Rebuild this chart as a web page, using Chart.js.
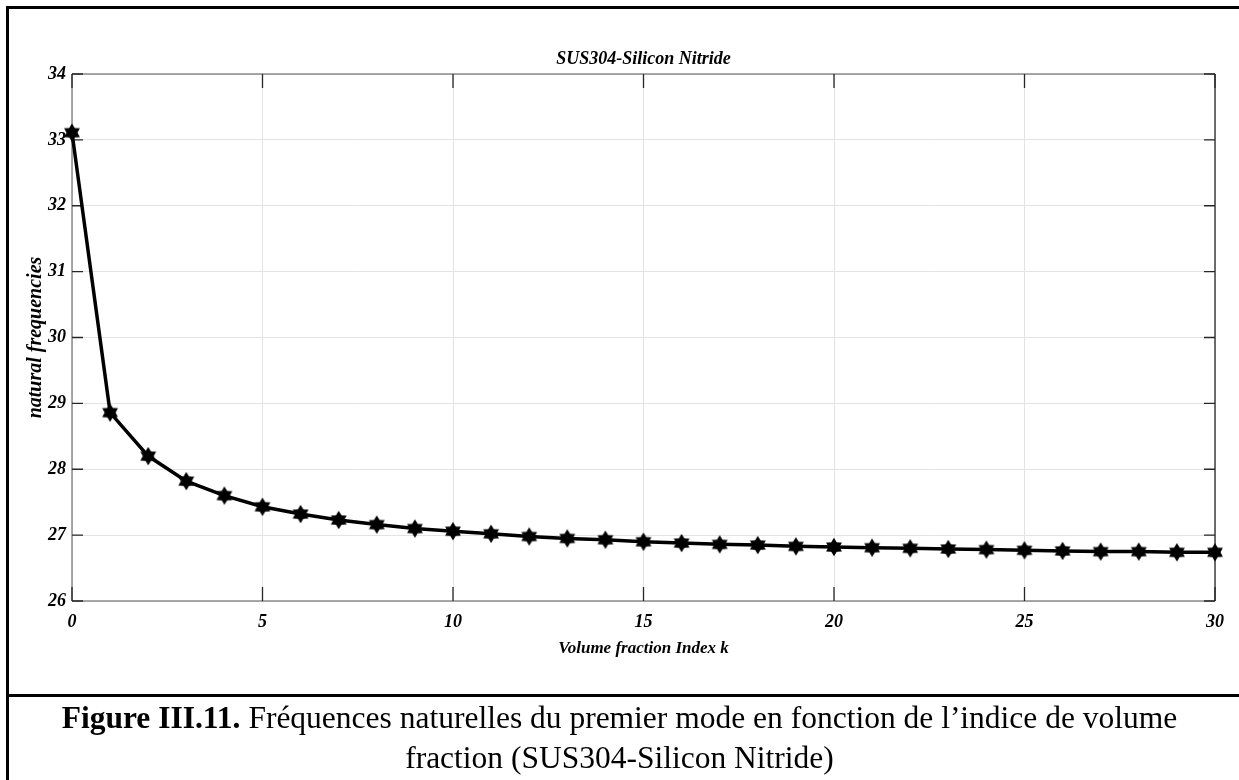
<!DOCTYPE html>
<html>
<head>
<meta charset="utf-8">
<script src="https://cdn.jsdelivr.net/npm/chart.js@4.4.1/dist/chart.umd.min.js"></script>
<style>
  html, body { margin: 0; padding: 0; background: #fff; }
  body { width: 1239px; height: 780px; position: relative; overflow: hidden; }
  #wrap { position: absolute; left: 0; top: 0; width: 1239px; height: 695px; }
  #frame { position: absolute; left: 6px; top: 6px; width: 1250px; height: 800px;
           border-left: 3px solid #000; border-top: 3px solid #000; pointer-events: none; }
  #sep { position: absolute; left: 6px; top: 694px; width: 1250px; height: 3px; background: #000; }
  #caption { position: absolute; left: 0px; top: 698px; width: 1239px; text-align: center;
             font-family: "Liberation Serif", "Times New Roman", serif; font-size: 31.5px;
             line-height: 40px; color: #000; white-space: nowrap; }
  #caption b { font-weight: bold; }
</style>
</head>
<body>
<div id="wrap"><canvas id="c" width="1239" height="695"></canvas></div>
<div id="frame"></div>
<div id="sep"></div>
<div id="caption"><b>Figure III.11.</b> Fréquences naturelles du premier mode en fonction de l’indice de volume<br>fraction (SUS304-Silicon Nitride)</div>
<script>
// ---- data ----
const kValues = [0,1,2,3,4,5,6,7,8,9,10,11,12,13,14,15,16,17,18,19,20,21,22,23,24,25,26,27,28,29,30];
const frequencies = [33.11,28.86,28.20,27.82,27.60,27.43,27.32,27.23,27.16,27.10,27.06,27.02,26.98,26.95,26.93,26.90,26.88,26.86,26.85,26.83,26.82,26.81,26.80,26.79,26.78,26.77,26.76,26.75,26.75,26.74,26.74];
const xTicks = [0,5,10,15,20,25,30];
const yTicks = [26,27,28,29,30,31,32,33,34];
const chartTitle = 'SUS304-Silicon Nitride';
const xLabel = 'Volume fraction Index k';
const yLabel = 'natural frequencies';

// hexagram marker
function hexagram(r) {
  const s = Math.ceil(r * 2 + 4);
  const cv = document.createElement('canvas');
  cv.width = s; cv.height = s;
  const g = cv.getContext('2d');
  const c = s / 2;
  g.fillStyle = '#000';
  g.strokeStyle = '#000';
  g.lineWidth = 1.2;
  g.beginPath();
  for (let i = 0; i < 12; i++) {
    const ang = -Math.PI / 2 + i * Math.PI / 6;
    const rr = (i % 2 === 0) ? r : r * 0.6;
    const x = c + rr * Math.cos(ang), y = c + rr * Math.sin(ang);
    if (i === 0) g.moveTo(x, y); else g.lineTo(x, y);
  }
  g.closePath();
  g.fill();
  g.stroke();
  return cv;
}
const marker = hexagram(8);

const serif = '"Liberation Serif", "Times New Roman", serif';

// axes title centred over the plot area, box and inside ticks
const boxPlugin = {
  id: 'matlabBox',
  beforeDatasetsDraw(chart) {
    const { ctx, chartArea: a, scales } = chart;
    ctx.save();
    ctx.lineWidth = 1.5;
    ctx.strokeStyle = '#8c8c8c';
    ctx.beginPath();
    ctx.moveTo(a.left, a.top); ctx.lineTo(a.right, a.top);
    ctx.moveTo(a.left, a.top); ctx.lineTo(a.left, a.bottom);
    ctx.moveTo(a.left, a.bottom); ctx.lineTo(a.right, a.bottom);
    ctx.stroke();
    ctx.strokeStyle = '#262626';
    ctx.lineWidth = 1.3;
    ctx.beginPath();
    ctx.moveTo(a.right, a.top); ctx.lineTo(a.right, a.bottom);
    ctx.stroke();
    ctx.beginPath();
    xTicks.forEach(v => {
      const x = scales.x.getPixelForValue(v);
      ctx.moveTo(x, a.bottom); ctx.lineTo(x, a.bottom - 14);
      ctx.moveTo(x, a.top); ctx.lineTo(x, a.top + 14);
    });
    yTicks.forEach(v => {
      const y = scales.y.getPixelForValue(v);
      ctx.moveTo(a.left, y); ctx.lineTo(a.left + 11, y);
      ctx.moveTo(a.right, y); ctx.lineTo(a.right - 11, y);
    });
    ctx.stroke();
    // title
    ctx.fillStyle = '#000';
    ctx.font = 'italic bold 18px ' + serif;
    ctx.textAlign = 'center';
    ctx.textBaseline = 'middle';
    ctx.fillText(chartTitle, (a.left + a.right) / 2, a.top - 15);
    ctx.restore();
  }
};

new Chart(document.getElementById('c'), {
  type: 'line',
  data: {
    datasets: [{
      data: kValues.map((k, i) => ({ x: k, y: frequencies[i] })),
      borderColor: '#000',
      borderWidth: 3.5,
      pointStyle: marker,
      pointRadius: 8,
      pointHoverRadius: 8,
      tension: 0,
      fill: false,
      clip: false
    }]
  },
  options: {
    responsive: false,
    animation: false,
    events: [],
    layout: { padding: { left: 0, right: 24, top: 74, bottom: 0 } },
    plugins: {
      legend: { display: false },
      tooltip: { enabled: false },
      title: { display: false }
    },
    scales: {
      x: {
        type: 'linear',
        min: 0, max: 30,
        afterBuildTicks: s => { s.ticks = xTicks.map(v => ({ value: v })); },
        afterFit: s => { s.height = 94; },
        grid: { color: '#e3e3e3', lineWidth: 1, drawTicks: false },
        border: { display: false },
        ticks: {
          color: '#000', padding: 11,
          font: { family: serif, size: 18, style: 'italic', weight: 'bold' },
          maxRotation: 0
        },
        title: {
          display: true, text: xLabel, color: '#000',
          font: { family: serif, size: 17, style: 'italic', weight: 'bold' },
          padding: { top: 4, bottom: 36 }
        }
      },
      y: {
        type: 'linear',
        min: 26, max: 34,
        afterBuildTicks: s => { s.ticks = yTicks.map(v => ({ value: v })); },
        afterFit: s => { s.width = 72; },
        grid: { color: '#e3e3e3', lineWidth: 1, drawTicks: false },
        border: { display: false },
        ticks: {
          color: '#000', padding: 6,
          font: { family: serif, size: 18, style: 'italic', weight: 'bold' }
        },
        title: {
          display: true, text: yLabel, color: '#000',
          font: { family: serif, size: 20, style: 'italic', weight: 'bold' },
          padding: { top: 24, bottom: 0 }
        }
      }
    }
  },
  plugins: [boxPlugin]
});
</script>
</body>
</html>
